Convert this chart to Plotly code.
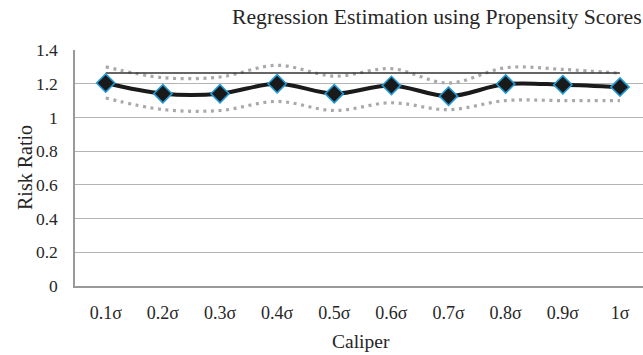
import plotly.graph_objects as go

categories = ["0.1σ", "0.2σ", "0.3σ", "0.4σ", "0.5σ", "0.6σ", "0.7σ", "0.8σ", "0.9σ", "1σ"]
risk_ratio = [1.204, 1.141, 1.141, 1.200, 1.141, 1.190, 1.126, 1.198, 1.194, 1.180]
upper_ci = [1.300, 1.236, 1.240, 1.309, 1.245, 1.289, 1.204, 1.295, 1.285, 1.262]
lower_ci = [1.115, 1.047, 1.041, 1.095, 1.041, 1.087, 1.046, 1.100, 1.100, 1.100]
reference = [1.263] * 10
y_ticks = [0, 0.2, 0.4, 0.6, 0.8, 1, 1.2, 1.4]
y_ticktext = ["0", "0.2", "0.4", "0.6", "0.8", "1", "1.2", "1.4"]

FONT = "Liberation Serif"
TXT = "#262626"

L, R, T, B = 75, 0, 50, 69
W, H = 643, 355
PW, PH = W - L - R, H - T - B

def px_x(x):
    return (x - L) / PW

def px_y(y):
    return (H - B - y) / PH

fig = go.Figure()
fig.add_trace(go.Scatter(x=categories, y=upper_ci, mode="lines",
                         line=dict(color="#a9a9a9", width=3.2, dash="3px,4.6px", shape="spline", smoothing=1),
                         hoverinfo="skip", showlegend=False))
fig.add_trace(go.Scatter(x=categories, y=lower_ci, mode="lines",
                         line=dict(color="#a9a9a9", width=3.2, dash="3px,4.6px", shape="spline", smoothing=1),
                         hoverinfo="skip", showlegend=False))
fig.add_trace(go.Scatter(x=categories, y=reference, mode="lines",
                         line=dict(color="#333333", width=1.5),
                         hoverinfo="skip", showlegend=False))
fig.add_trace(go.Scatter(x=categories, y=risk_ratio, mode="lines+markers",
                         line=dict(color="#1a1a1a", width=4, shape="spline", smoothing=1),
                         marker=dict(symbol="diamond", size=14, color="#1a1a1a",
                                     line=dict(color="#1f9ad6", width=1.6)),
                         showlegend=False))

fig.update_layout(
    width=W, height=H,
    margin=dict(l=L, r=R, t=T, b=B, autoexpand=False),
    paper_bgcolor="white", plot_bgcolor="white",
    font=dict(family=FONT, size=17, color=TXT),
    annotations=[
        dict(text="Regression Estimation using Propensity Scores",
             x=px_x(437), y=px_y(17), xref="paper", yref="paper",
             xanchor="center", yanchor="middle", showarrow=False,
             font=dict(family=FONT, size=21.7, color=TXT)),
        dict(text="Caliper",
             x=px_x(361), y=px_y(341), xref="paper", yref="paper",
             xanchor="center", yanchor="middle", showarrow=False,
             font=dict(family=FONT, size=19.5, color=TXT)),
        dict(text="Risk Ratio", textangle=-90,
             x=px_x(25), y=px_y(168), xref="paper", yref="paper",
             xanchor="center", yanchor="middle", showarrow=False,
             font=dict(family=FONT, size=20, color=TXT)),
    ],
)

fig.update_xaxes(
    type="category", range=[-0.538, 9.403],
    showline=True, linecolor="#999999", linewidth=1.5,
    showgrid=False, zeroline=False, automargin=False,
    ticks="outside", ticklen=10, tickcolor="rgba(0,0,0,0)",
    tickfont=dict(family=FONT, size=18, color=TXT),
)
fig.update_yaxes(
    range=[0, 1.4], tickvals=y_ticks, ticktext=y_ticktext,
    showline=True, linecolor="#999999", linewidth=1.5,
    showgrid=True, gridcolor="#b5b5b5", gridwidth=1.2,
    zeroline=False, automargin=False,
    ticks="outside", ticklen=12, tickcolor="rgba(0,0,0,0)",
    tickfont=dict(family=FONT, size=17.5, color=TXT),
)

fig.write_html("out.html", config={"displayModeBar": False},
               post_script="document.body.style.margin='0';document.body.style.overflow='hidden';")
